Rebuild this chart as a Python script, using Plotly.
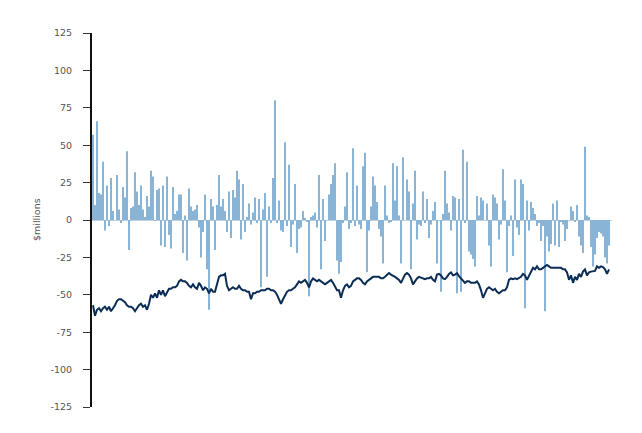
import plotly.graph_objects as go

# Monthly flows ($ millions)
flows = [
    57, 10, 66, 18, 17, 39, -7, 23, -4, 28, 6, 0, 30, 7, -2, 22, 15, 46, -20, 8,
    9, 32, 19, 10, 23, 7, 2, 16, 9, 33, 29, -0.5, 20,
    21, -17, 23, -18, 29, -10, -19, 22, 4, 6, 17, 17, -22, 3, -27, 21, 9, 6, 7, 10,
    -5, -25, -8, 17, -33, -60, 14, 9, -20, 10, 30, 9, 14, 6,
    -8, 19, -12, 20, 15, 33, 27, -13, 24, -8, 2, 11, -3, 5, 15, -2, 14, -45, 7, 18,
    -38, 9, -2, 28, 80, -2, 13, -7, -8, 52, -4, 37, -18, -3,
    24, -22, -6, -5, 6, 1, -1, -51, 2, 3, 5, -5, 30, -33, 14, -14, 0, 17, 24, 30,
    38, -27, -36, -28, -2, 9, 32, -6, -2, 48, -4, 23, -3, -6,
    36, 45, -35, -7, 9, 29, 23, 12, -6, -11, -29, 23, 3, -2, -1, 38, 13, 36, 3, -29,
    42, 0, 27, 19, -33, 11, 33, -13, -3, -4, 19, -2, 14, -12,
    -3, 6, 12, -29, 0, -48, 4, 33, 11, 5, -7, 16, 15, -49, 14, -48, 47, -2, 39, -21,
    -23, -26, -31, 16, 3, 15, 13, 0, 11, -17, -31, 17, 15, 11,
    -13, -3, 34, 13, -35, -4, 3, -24, 27, -5, -10, 27, 24, -59, 13, -7, 12, 8, 4, -4,
    -2, -14, -4, -61, -11, -21, -16, 11, -17, 13, -18, -1, -3, -14,
    -6, 0, 9, 6, -1, 10, -11, -17, -22, 49, 3, 2, -18, -31, -23, -12, -8, -9, -11, -25,
    -29, -17,
]

# Second series (line)
level = [
    -57, -64, -60, -59, -61, -59, -58, -60, -58, -61, -59, -57, -54, -53, -53, -54, -55, -57, -58, -58,
    -59, -61, -59, -57, -56, -58, -57, -60, -56, -50, -52, -49, -52,
    -47, -50, -47, -51, -48, -46, -46, -45, -45, -44, -41, -40, -41, -41, -42, -44, -45, -43, -45, -46,
    -42, -44, -47, -45, -46, -49, -46, -48, -48, -42, -38, -37, -37, -36,
    -44, -47, -46, -45, -46, -46, -44, -46, -47, -47, -48, -48, -53, -49, -49, -48, -48, -47, -47, -47,
    -46, -46, -47, -47, -48, -50, -53, -56, -53, -50, -48, -47, -47, -46,
    -45, -43, -41, -42, -41, -40, -42, -45, -41, -39, -40, -41, -40, -41, -42, -43, -42, -41, -40, -42,
    -45, -47, -47, -52, -47, -44, -43, -45, -44, -41, -40, -39, -39, -40,
    -42, -43, -41, -40, -39, -38, -38, -38, -38, -39, -39, -38, -37, -35.5, -36.5, -37, -38, -39, -40, -42,
    -39, -36.5, -35.5, -36.5, -39, -43, -41, -39, -38, -38.5, -39, -39.5, -39, -39,
    -38, -40, -41, -36.5, -36, -37, -39, -39.5, -38, -36, -35, -37, -36.5, -35.5, -37.5, -39, -41, -42, -41, -41,
    -42, -42, -42, -41, -43, -47, -52, -49, -46, -45, -46, -47, -46, -48,
    -49, -48, -47, -47, -45, -40, -39, -39.5, -39, -39.5, -38.5, -38, -36, -37, -40, -37, -34, -32, -33, -31,
    -33, -33, -32, -31, -30, -31, -32, -32, -32, -31.5, -32, -32, -33, -33,
    -35, -40, -37, -42, -38, -40, -36, -38, -34.5, -33, -37, -35, -34.5, -34.5, -34, -31, -32, -31, -31.5, -33,
    -36, -33,
]

months = list(range(len(flows)))

y_ticks = [125, 100, 75, 50, 25, 0, -25, -50, -75, -100, -125]

fig = go.Figure()
fig.add_trace(go.Bar(
    x=months, y=flows,
    marker=dict(color="#8AB4D6", line=dict(width=0)),
    showlegend=False,
))
fig.add_trace(go.Scatter(
    x=months, y=level, mode="lines",
    line=dict(color="#0B2D55", width=2),
    showlegend=False,
))

fig.update_layout(
    width=634, height=425,
    margin=dict(l=84, r=30, t=25, b=26),
    paper_bgcolor="white", plot_bgcolor="white",
    bargap=0.55,
    font=dict(family="DejaVu Sans", size=9.5, color="#555555"),
    xaxis=dict(
        range=[-0.5, 259.5], showticklabels=False, showgrid=False,
        zeroline=False, showline=False, ticks="",
    ),
    yaxis=dict(
        range=[-125, 125], tickvals=y_ticks, ticktext=[str(v) for v in y_ticks],
        showgrid=False, zeroline=True, zerolinecolor="#BFD1E0", zerolinewidth=1,
        showline=True, linecolor="#111111", linewidth=2,
        ticks="outside", ticklen=7, tickcolor="#333333", tickwidth=1,
        ticklabelstandoff=9,
        tickfont=dict(family="DejaVu Sans", size=9.5, color="#555555"),
    ),
    annotations=[dict(
        text="$millions", xref="paper", yref="paper", x=0, y=0.5,
        xanchor="center", yanchor="middle", xshift=-56, textangle=-90,
        showarrow=False, font=dict(family="DejaVu Sans", size=9.5, color="#555555"),
    )],
)

fig.write_html("out.html")
